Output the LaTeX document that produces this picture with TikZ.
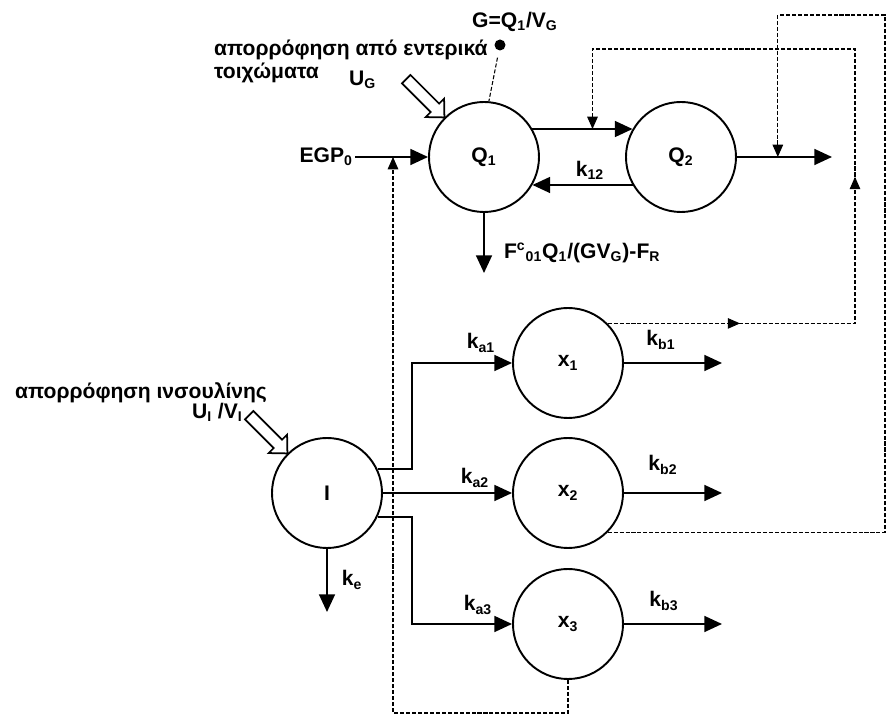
\documentclass[tikz,border=0pt]{standalone}
\usepackage{fontspec}
\setmainfont{Liberation Sans}
\usetikzlibrary{arrows.meta, decorations.markings}

\begin{document}
\begin{tikzpicture}[>={Triangle[length=10pt,width=9pt]},
    font=\fontsize{12}{14}\selectfont\bfseries,
    comp/.style={draw, circle, line width=1.1pt, minimum size=2.2cm, inner sep=0pt},
    flow/.style={->, line width=1.1pt},
    fb/.style={line width=0.6pt, dash pattern=on 2.3pt off 1.1pt,
               -{Triangle[length=7pt,width=6pt]}},
    probe/.style={line width=0.6pt, dash pattern=on 2.3pt off 1.1pt},
    uptake/.pic={
        \draw[fill=white, line width=1pt] (0,0) -- (-0.27,0.26) -- (-0.27,0.12)
            -- (-1.08,0.12) -- (-1.08,-0.12) -- (-0.27,-0.12) -- (-0.27,-0.26) -- cycle;
    },
    lab/.style={inner sep=1pt},
]
\useasboundingbox (0,0) rectangle (17.74,-14.30);

% ================= glucose part =================
\node[comp] (Q1) at (9.68,-3.14) {Q\textsubscript{1}};
\node[comp] (Q2) at (13.62,-3.14) {Q\textsubscript{2}};

\node[fill, circle, inner sep=0pt, minimum size=0.22cm] (gdot) at (10.00,-0.90) {};
\node[lab] (glab) at (10.30,-0.44) {G=Q\textsubscript{1}/V\textsubscript{G}};
\draw[probe, shorten <=4pt] (gdot) -- (Q1.85);

\node[lab, anchor=west] (gut1) at (4.24,-1.00) {απορρόφηση από εντερικά};
\node[lab, anchor=west] (gut2) at (4.24,-1.46) {τοιχώματα};
\node[lab, anchor=west] (uglab) at (6.94,-1.60) {U\textsubscript{G}};
\pic[rotate=-45] at (Q1.135) {uptake};

\node[lab, anchor=east] (egp) at (7.10,-3.14) {EGP\textsubscript{0}};
\coordinate (m0) at (7.86,-3.14);
\draw[flow] (egp) -- (Q1.west);

\draw[flow] (Q1.30) -- (Q2.150) coordinate[pos=0.6] (m12);
\draw[flow] (Q2.210) -- (Q1.-30);
\node[lab] (k12) at (11.80,-3.40) {k\textsubscript{12}};

\coordinate (q2out) at (16.64,-3.14);
\draw[flow] (Q2.east) -- (q2out) coordinate[pos=0.43] (m2);

\coordinate (q1out) at (9.68,-5.46);
\draw[flow] (Q1.south) -- (q1out);
\node[lab, anchor=west] (fout) at (10.04,-5.06)
    {F\textsuperscript{c}\textsubscript{01}Q\textsubscript{1}/(GV\textsubscript{G})-F\textsubscript{R}};

% ================= insulin part =================
\node[comp] (I) at (6.54,-9.86) {I};
\node[comp] (x1) at (11.36,-7.26) {x\textsubscript{1}};
\node[comp] (x2) at (11.36,-9.86) {x\textsubscript{2}};
\node[comp] (x3) at (11.36,-12.48) {x\textsubscript{3}};

\node[lab, anchor=west] (ins1) at (0.26,-7.86) {απορρόφηση ινσουλίνης};
\node[lab, anchor=west] (ins2) at (3.80,-8.24) {U\textsubscript{I} /V\textsubscript{I}};
\pic[rotate=-45] at (I.135) {uptake};

\coordinate (j1) at (8.24,-7.26);
\coordinate (j3) at (8.24,-12.48);
\draw[flow] (I.25) -| (j1) -- (x1.west);
\draw[flow] (I.east) -- (x2.west);
\draw[flow] (I.-25) -| (j3) -- (x3.west);
\node[lab] (ka1) at (9.62,-6.86) {k\textsubscript{a1}};
\node[lab] (ka2) at (9.50,-9.56) {k\textsubscript{a2}};
\node[lab] (ka3) at (9.56,-12.10) {k\textsubscript{a3}};

\coordinate (ieout) at (6.54,-12.24);
\draw[flow] (I.south) -- (ieout);
\node[lab] (ke) at (7.04,-11.60) {k\textsubscript{e}};

\coordinate (b1) at (14.44,-7.26);
\coordinate (b2) at (14.44,-9.86);
\coordinate (b3) at (14.44,-12.48);
\draw[flow] (x1.east) -- (b1);
\draw[flow] (x2.east) -- (b2);
\draw[flow] (x3.east) -- (b3);
\node[lab] (kb1) at (13.22,-6.80) {k\textsubscript{b1}};
\node[lab] (kb2) at (13.26,-9.30) {k\textsubscript{b2}};
\node[lab] (kb3) at (13.28,-12.02) {k\textsubscript{b3}};

% ================= feedback (dashed) =================
\coordinate (r1top) at (17.10,-0.98);
\coordinate (tr) at (17.70,-0.30);
\coordinate (bl) at (7.86,-14.26);
\draw[fb, postaction={decorate}, decoration={markings,
        mark=at position 2.65cm with {\arrow{Triangle[length=7pt,width=6pt]}},
        mark=at position 7.88cm with {\arrow{Triangle[length=7pt,width=6pt]}}}]
    (x1.north east) -| (r1top) -| (m12);
\draw[fb] (x2.south east) -| (tr) -| (m2);
\draw[fb] (x3.south) |- (bl) -- (m0);

\end{tikzpicture}
\end{document}
